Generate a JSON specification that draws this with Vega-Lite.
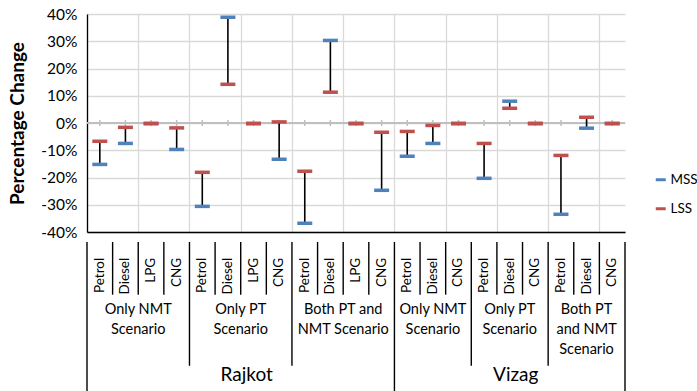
{
  "$schema": "https://vega.github.io/schema/vega-lite/v6.json",
  "padding": {"left": 8, "top": 7, "right": 30, "bottom": 0},
  "background": "white",
  "config": {
    "font": "Lato",
    "view": {"stroke": null},
    "concat": {"spacing": 0},
    "axisY": {
      "labelFontSize": 15.5,
      "labelColor": "#000000",
      "labelPadding": 10,
      "labelFlush": false,
      "labelOverlap": false,
      "labelBound": false,
      "labelSeparation": 0,
      "ticks": false,
      "grid": true,
      "gridColor": "#d9d9d9",
      "gridWidth": 1.3,
      "domainColor": "#000000",
      "domainWidth": 1.3,
      "titleFontSize": 19,
      "titleFontWeight": "bold",
      "titleColor": "#000000",
      "titlePadding": 13
    },
    "axisX": {
      "labels": false,
      "ticks": false,
      "grid": true,
      "gridColor": "#d9d9d9",
      "gridWidth": 1.3,
      "domainColor": "#000000",
      "domainWidth": 1.5
    }
  },
  "datasets": {
    "fuelChange": [
      {"idx": 1, "city": "Rajkot", "scenario": "Only NMT\nScenario", "fuel": "Petrol", "MSS": -15.2, "LSS": -6.7},
      {"idx": 2, "city": "Rajkot", "scenario": "Only NMT\nScenario", "fuel": "Diesel", "MSS": -7.5, "LSS": -1.6},
      {"idx": 3, "city": "Rajkot", "scenario": "Only NMT\nScenario", "fuel": "LPG", "MSS": -0.3, "LSS": -0.1},
      {"idx": 4, "city": "Rajkot", "scenario": "Only NMT\nScenario", "fuel": "CNG", "MSS": -9.7, "LSS": -1.8},
      {"idx": 5, "city": "Rajkot", "scenario": "Only PT\nScenario", "fuel": "Petrol", "MSS": -30.6, "LSS": -18.1},
      {"idx": 6, "city": "Rajkot", "scenario": "Only PT\nScenario", "fuel": "Diesel", "MSS": 38.8, "LSS": 14.2},
      {"idx": 7, "city": "Rajkot", "scenario": "Only PT\nScenario", "fuel": "LPG", "MSS": -0.3, "LSS": -0.1},
      {"idx": 8, "city": "Rajkot", "scenario": "Only PT\nScenario", "fuel": "CNG", "MSS": -13.3, "LSS": 0.4},
      {"idx": 9, "city": "Rajkot", "scenario": "Both PT and\nNMT Scenario", "fuel": "Petrol", "MSS": -36.8, "LSS": -17.7},
      {"idx": 10, "city": "Rajkot", "scenario": "Both PT and\nNMT Scenario", "fuel": "Diesel", "MSS": 30.3, "LSS": 11.3},
      {"idx": 11, "city": "Rajkot", "scenario": "Both PT and\nNMT Scenario", "fuel": "LPG", "MSS": -0.3, "LSS": -0.1},
      {"idx": 12, "city": "Rajkot", "scenario": "Both PT and\nNMT Scenario", "fuel": "CNG", "MSS": -24.7, "LSS": -3.4},
      {"idx": 13, "city": "Vizag", "scenario": "Only NMT\nScenario", "fuel": "Petrol", "MSS": -12.2, "LSS": -3.1},
      {"idx": 14, "city": "Vizag", "scenario": "Only NMT\nScenario", "fuel": "Diesel", "MSS": -7.5, "LSS": -0.9},
      {"idx": 15, "city": "Vizag", "scenario": "Only NMT\nScenario", "fuel": "CNG", "MSS": -0.3, "LSS": -0.1},
      {"idx": 16, "city": "Vizag", "scenario": "Only PT\nScenario", "fuel": "Petrol", "MSS": -20.3, "LSS": -7.5},
      {"idx": 17, "city": "Vizag", "scenario": "Only PT\nScenario", "fuel": "Diesel", "MSS": 8.0, "LSS": 5.4},
      {"idx": 18, "city": "Vizag", "scenario": "Only PT\nScenario", "fuel": "CNG", "MSS": -0.3, "LSS": -0.1},
      {"idx": 19, "city": "Vizag", "scenario": "Both PT\nand NMT\nScenario", "fuel": "Petrol", "MSS": -33.5, "LSS": -11.9},
      {"idx": 20, "city": "Vizag", "scenario": "Both PT\nand NMT\nScenario", "fuel": "Diesel", "MSS": -1.9, "LSS": 2.1},
      {"idx": 21, "city": "Vizag", "scenario": "Both PT\nand NMT\nScenario", "fuel": "CNG", "MSS": -0.3, "LSS": -0.1}
    ],
    "dividers": [
      {"at": 0.5, "depth": 3},
      {"at": 1.5, "depth": 1},
      {"at": 2.5, "depth": 1},
      {"at": 3.5, "depth": 1},
      {"at": 4.5, "depth": 2.35},
      {"at": 5.5, "depth": 1},
      {"at": 6.5, "depth": 1},
      {"at": 7.5, "depth": 1},
      {"at": 8.5, "depth": 2.35},
      {"at": 9.5, "depth": 1},
      {"at": 10.5, "depth": 1},
      {"at": 11.5, "depth": 1},
      {"at": 12.5, "depth": 3},
      {"at": 13.5, "depth": 1},
      {"at": 14.5, "depth": 1},
      {"at": 15.5, "depth": 2.35},
      {"at": 16.5, "depth": 1},
      {"at": 17.5, "depth": 1},
      {"at": 18.5, "depth": 2.35},
      {"at": 19.5, "depth": 1},
      {"at": 20.5, "depth": 1},
      {"at": 21.5, "depth": 3}
    ]
  },
  "vconcat": [
    {
      "width": 538,
      "height": 218,
      "data": {"name": "fuelChange"},
      "encoding": {
        "y": {
          "type": "quantitative",
          "title": "Percentage Change",
          "scale": {"domain": [-40, 40], "nice": false, "zero": false},
          "axis": {
            "values": [-40, -30, -20, -10, 0, 10, 20, 30, 40],
            "tickCount": 9,
            "labelExpr": "datum.value + '%'",
            "title": "Percentage Change"
          }
        }
      },
      "layer": [
        {
          "mark": {"type": "rule", "color": "#bfbfbf", "strokeWidth": 2},
          "encoding": {
            "y": {"datum": 0, "type": "quantitative"}
          }
        },
        {
          "mark": {"type": "tick", "orient": "vertical", "color": "#bfbfbf", "size": 6, "thickness": 1.5, "opacity": 1},
          "encoding": {
            "x": {
              "field": "idx",
              "type": "quantitative",
              "title": null,
              "scale": {"domain": [0.5, 21.5], "nice": false, "zero": false},
              "axis": {
                "values": [0.5, 1.5, 2.5, 3.5, 4.5, 5.5, 6.5, 7.5, 8.5, 9.5, 10.5, 11.5, 12.5, 13.5, 14.5, 15.5, 16.5, 17.5, 18.5, 19.5, 20.5, 21.5],
                "title": null
              }
            },
            "y": {"datum": 0, "type": "quantitative"}
          }
        },
        {
          "mark": {"type": "rule", "color": "#000000", "strokeWidth": 1.6},
          "encoding": {
            "x": {"field": "idx", "type": "quantitative", "title": null},
            "y": {"field": "MSS", "type": "quantitative"},
            "y2": {"field": "LSS"}
          }
        },
        {
          "transform": [{"fold": ["MSS", "LSS"], "as": ["series", "change"]}],
          "mark": {"type": "tick", "orient": "horizontal", "size": 15, "thickness": 3.5, "opacity": 1},
          "encoding": {
            "x": {"field": "idx", "type": "quantitative", "title": null},
            "y": {"field": "change", "type": "quantitative"},
            "color": {
              "field": "series",
              "type": "nominal",
              "scale": {"domain": ["MSS", "LSS"], "range": ["#4f81bd", "#c0504d"]},
              "legend": {
                "title": null,
                "orient": "none",
                "legendX": 567,
                "legendY": 159,
                "symbolType": "M-1,-0.3H1V0.3H-1Z",
                "symbolSize": 100,
                "symbolStrokeWidth": 0,
                "symbolOpacity": 1,
                "labelFontSize": 13.5,
                "labelColor": "#000000",
                "labelOffset": 3,
                "rowPadding": 14
              }
            }
          }
        }
      ]
    },
    {
      "width": 538,
      "height": 158,
      "layer": [
        {
          "data": {"name": "dividers"},
          "mark": {"type": "rule", "color": "#000000", "strokeWidth": 1.4},
          "encoding": {
            "x": {"field": "at", "type": "quantitative", "scale": {"domain": [0.5, 21.5], "nice": false, "zero": false}, "axis": null},
            "y": {"field": "depth", "type": "quantitative", "scale": {"domain": [0, 3], "reverse": true, "nice": false, "zero": false}, "axis": null},
            "y2": {"datum": 0}
          }
        },
        {
          "data": {"name": "fuelChange"},
          "mark": {"type": "text", "angle": 270, "align": "right", "baseline": "middle", "fontSize": 13.5, "color": "#000000"},
          "encoding": {
            "x": {"field": "idx", "type": "quantitative", "axis": null},
            "y": {"datum": 0.3, "type": "quantitative", "axis": null},
            "text": {"field": "fuel", "type": "nominal"}
          }
        },
        {
          "data": {"name": "fuelChange"},
          "transform": [
            {"aggregate": [{"op": "mean", "field": "idx", "as": "mid"}], "groupby": ["city", "scenario"]}
          ],
          "mark": {"type": "text", "align": "center", "baseline": "top", "fontSize": 14.5, "lineHeight": 20, "lineBreak": "\n", "color": "#000000"},
          "encoding": {
            "x": {"field": "mid", "type": "quantitative", "axis": null},
            "y": {"datum": 1.16, "type": "quantitative", "axis": null},
            "text": {"field": "scenario", "type": "nominal"}
          }
        },
        {
          "data": {"name": "fuelChange"},
          "transform": [
            {"aggregate": [{"op": "mean", "field": "idx", "as": "mid"}], "groupby": ["city"]}
          ],
          "mark": {"type": "text", "align": "center", "baseline": "middle", "fontSize": 19, "dx": 6, "color": "#000000"},
          "encoding": {
            "x": {"field": "mid", "type": "quantitative", "axis": null},
            "y": {"datum": 2.53, "type": "quantitative", "axis": null},
            "text": {"field": "city", "type": "nominal"}
          }
        }
      ]
    }
  ]
}
